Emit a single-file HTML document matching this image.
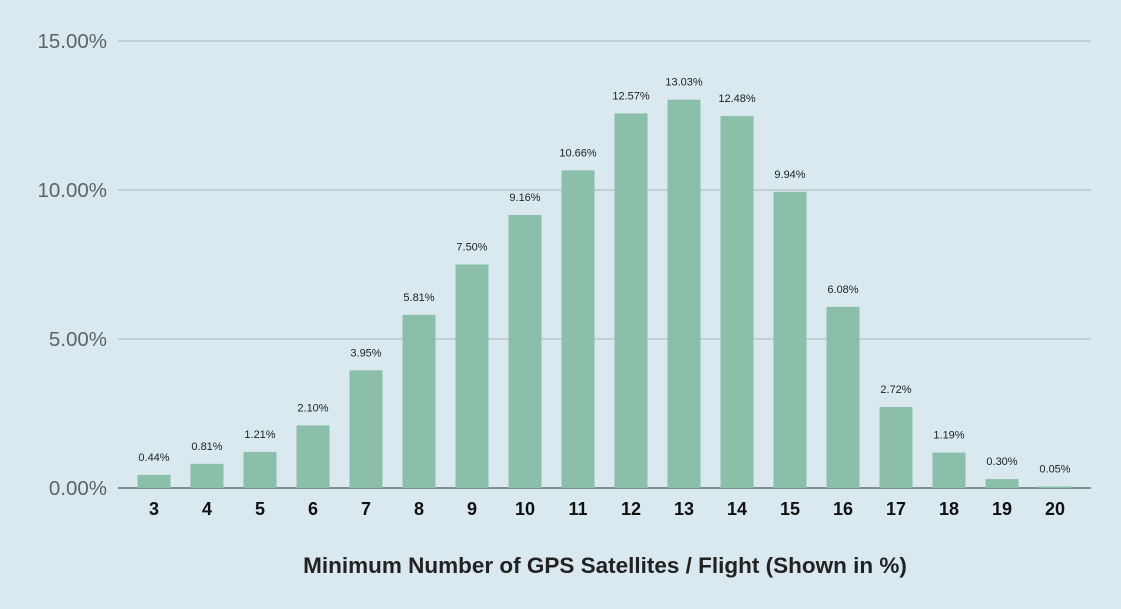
<!DOCTYPE html>
<html><head><meta charset="utf-8"><style>
html,body{margin:0;padding:0;background:#dae9f0;}
svg{display:block;font-family:"Liberation Sans",Arial,sans-serif;}
</style></head><body>
<svg width="1121" height="609" id="chart">
<rect width="1121" height="609" fill="#dae9f0"/>
<g id="grid"></g><g id="bars"></g><g id="labels"></g>
<text x="605" y="573" text-anchor="middle" font-size="22.5" font-weight="bold" fill="#222">Minimum Number of GPS Satellites / Flight (Shown in %)</text>
</svg>
<script>
const categories=["3","4","5","6","7","8","9","10","11","12","13","14","15","16","17","18","19","20"];
const values=[0.44,0.81,1.21,2.10,3.95,5.81,7.50,9.16,10.66,12.57,13.03,12.48,9.94,6.08,2.72,1.19,0.30,0.05];
const valueLabels=["0.44%","0.81%","1.21%","2.10%","3.95%","5.81%","7.50%","9.16%","10.66%","12.57%","13.03%","12.48%","9.94%","6.08%","2.72%","1.19%","0.30%","0.05%"];
const yTicks=[0,5,10,15];
const yTickLabels=["0.00%","5.00%","10.00%","15.00%"];
const NS="http://www.w3.org/2000/svg";
const y0=488,pxPer=29.8;
function y(v){return y0-v*pxPer;}
const bandStart=127.5,band=53,barW=33;
function xc(i){return bandStart+band*(i+0.5);}
function mk(tag,attrs,parent){const e=document.createElementNS(NS,tag);for(const k in attrs)e.setAttribute(k,attrs[k]);parent.appendChild(e);return e;}
const grid=document.getElementById('grid'),bars=document.getElementById('bars'),labels=document.getElementById('labels');
yTicks.forEach((t,i)=>{
 const l=mk('line',{x1:118,x2:1091,y1:y(t),y2:y(t),stroke:t===0?'#333':'#aab6bc','stroke-width':1},grid);
 
 
 const tx=mk('text',{x:107,y:y(t)+7,'text-anchor':'end','font-size':20.5,fill:'#5f6368'},grid);
 tx.textContent=yTickLabels[i];
 
 
});
values.forEach((v,i)=>{
 const r=mk('rect',{x:xc(i)-barW/2,y:y(v),width:barW,height:y0-y(v),fill:'#8bbfa9'},bars);
 
 
 const vl=mk('text',{x:xc(i),y:y(v)-14,'text-anchor':'middle','font-size':11,fill:'#222'},labels);
 vl.textContent=valueLabels[i];
 
 
 const cl=mk('text',{x:xc(i),y:515,'text-anchor':'middle','font-size':18,'font-weight':'bold',fill:'#111'},labels);
 cl.textContent=categories[i];
 
 
});
</script>
</body></html>
